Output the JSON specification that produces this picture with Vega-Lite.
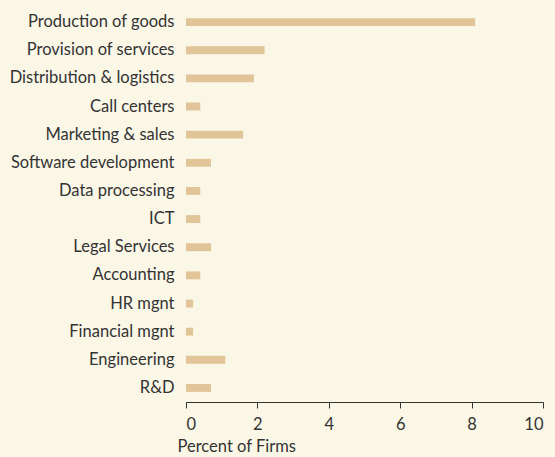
{
  "$schema": "https://vega.github.io/schema/vega-lite/v6.json",
  "width": 357,
  "height": 394,
  "autosize": {"type": "none"},
  "padding": {"left": 186, "top": 8, "right": 12, "bottom": 55},
  "background": "#fbf7e7",
  "config": {
    "view": {"stroke": null},
    "font": "Lato",
    "axis": {"labelFont": "Lato", "titleFont": "Lato", "labelColor": "#333333", "titleColor": "#333333", "grid": false}
  },
  "data": {
    "values": [
      {"activity": "Production of goods", "pct": 8.1},
      {"activity": "Provision of services", "pct": 2.2},
      {"activity": "Distribution & logistics", "pct": 1.9},
      {"activity": "Call centers", "pct": 0.4},
      {"activity": "Marketing & sales", "pct": 1.6},
      {"activity": "Software development", "pct": 0.7},
      {"activity": "Data processing", "pct": 0.4},
      {"activity": "ICT", "pct": 0.4},
      {"activity": "Legal Services", "pct": 0.7},
      {"activity": "Accounting", "pct": 0.4},
      {"activity": "HR mgnt", "pct": 0.2},
      {"activity": "Financial mgnt", "pct": 0.2},
      {"activity": "Engineering", "pct": 1.1},
      {"activity": "R&D", "pct": 0.7}
    ]
  },
  "mark": {"type": "bar", "color": "#e1c497"},
  "encoding": {
    "y": {
      "field": "activity", "type": "nominal", "sort": null,
      "scale": {"paddingInner": 0.72, "paddingOuter": 0.36},
      "axis": {"title": null, "domain": false, "ticks": false, "labelFontSize": 16.5, "labelPadding": 12, "labelLimit": 200}
    },
    "x": {
      "field": "pct", "type": "quantitative",
      "scale": {"domain": [0, 10], "nice": false},
      "axis": {"title": "Percent of Firms", "values": [0, 2, 4, 6, 8, 10], "domainColor": "#333333", "tickColor": "#333333", "tickSize": 6, "labelFontSize": 16.5, "labelPadding": 8, "titleFontSize": 16.5, "titleFontWeight": "normal", "titleAnchor": "start", "titleAlign": "left", "titleX": -9, "titlePadding": 6}
    }
  }
}
